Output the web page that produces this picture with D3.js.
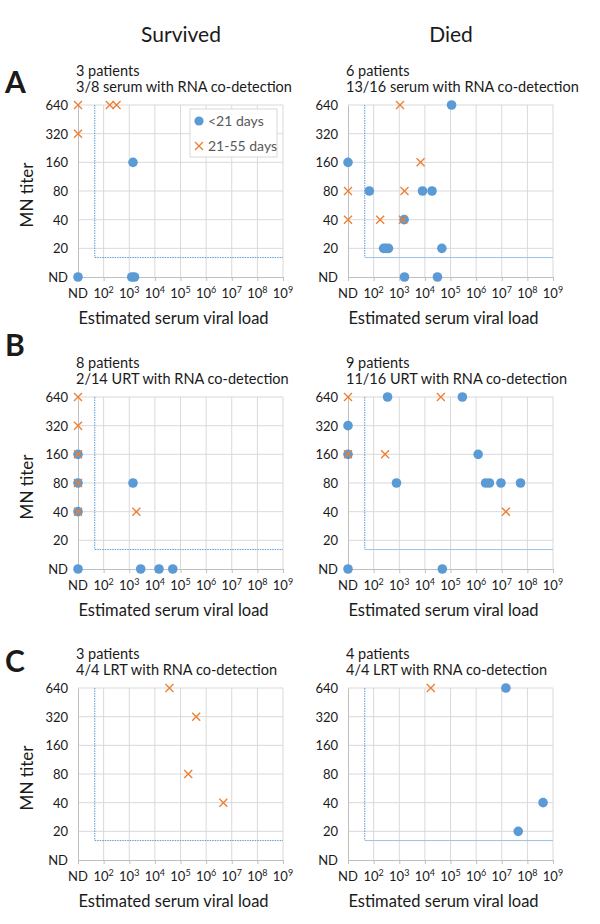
<!DOCTYPE html>
<html lang="en">
<head>
    <meta charset="UTF-8">
    <title>MN titer vs viral load</title>
    <script src="https://d3js.org/d3.v7.min.js"></script>
    <style>
        body { margin: 0; background: #fff; }
        text { font-family: Lato, "Open Sans", sans-serif; fill: #1a1a1a; }
        .tick-label { font-size: 13px; }
        .legend-text { font-size: 14px; fill: #595959; }
    </style>
</head>
<body>
    <div id="chart"></div>
    <script>
        // ND is plotted at the bottom / left end of each axis
        const ND = 10;

        const columnTitles = ["Survived", "Died"];
        const rowLetters = ["A", "B", "C"];
        const seriesNames = ["<21 days", "21-55 days"];

        const xTickValues = [10, 1e2, 1e3, 1e4, 1e5, 1e6, 1e7, 1e8, 1e9];
        const xTickLabels = ["ND", "10^2", "10^3", "10^4", "10^5", "10^6", "10^7", "10^8", "10^9"];
        const yTickValues = [10, 20, 40, 80, 160, 320, 640];
        const yTickLabels = ["ND", "20", "40", "80", "160", "320", "640"];

        // detection limits (dotted guide lines)
        const viralLoadCutoff = 45;
        const titerCutoff = 16;

        const panelTitles = [
            ["3 patients", "3/8 serum with RNA co-detection"],
            ["6 patients", "13/16 serum with RNA co-detection"],
            ["8 patients", "2/14 URT with RNA co-detection"],
            ["9 patients", "11/16 URT with RNA co-detection"],
            ["3 patients", "4/4 LRT with RNA co-detection"],
            ["4 patients", "4/4 LRT with RNA co-detection"]
        ];

        // [viral load, MN titer]; ND = 10
        const serumSurvivedEarly = [[ND, ND], [1.25e3, ND], [1.6e3, ND], [1.4e3, 160]];
        const serumSurvivedLate = [[ND, 640], [175, 640], [320, 640], [ND, 320]];
        const serumDiedEarly = [[1.1e5, 640], [ND, 160], [68, 80], [8.1e3, 80], [1.9e4, 80], [1.55e3, 40],
                                [245, 20], [300, 20], [380, 20], [4.6e4, 20], [1.6e3, ND], [3.1e4, ND]];
        const serumDiedLate = [[1.07e3, 640], [6.8e3, 160], [ND, 80], [1.6e3, 80], [ND, 40], [180, 40], [1.4e3, 40]];
        const urtSurvivedEarly = [[ND, 160], [ND, 80], [ND, 40], [ND, ND], [1.4e3, 80], [2.8e3, ND], [1.45e4, ND], [5e4, ND]];
        const urtSurvivedLate = [[ND, 640], [ND, 320], [ND, 160], [ND, 80], [ND, 40], [1.9e3, 40]];
        const urtDiedEarly = [[350, 640], [2.9e5, 640], [ND, 320], [ND, 160], [1.2e6, 160], [780, 80], [2.35e6, 80],
                              [3.3e6, 80], [9.3e6, 80], [5.4e7, 80], [ND, ND], [4.8e4, ND]];
        const urtDiedLate = [[ND, 640], [4.2e4, 640], [ND, 160], [280, 160], [1.45e7, 40]];
        const lrtSurvivedEarly = [];
        const lrtSurvivedLate = [[3.7e4, 640], [4.1e5, 320], [2.0e5, 80], [4.7e6, 40]];
        const lrtDiedEarly = [[1.45e7, 640], [4.4e7, 20], [4.1e8, 40]];
        const lrtDiedLate = [[1.7e4, 640]];

        const panels = [
            {row: 0, col: 0, early: serumSurvivedEarly, late: serumSurvivedLate, legend: true},
            {row: 0, col: 1, early: serumDiedEarly, late: serumDiedLate},
            {row: 1, col: 0, early: urtSurvivedEarly, late: urtSurvivedLate},
            {row: 1, col: 1, early: urtDiedEarly, late: urtDiedLate},
            {row: 2, col: 0, early: lrtSurvivedEarly, late: lrtSurvivedLate},
            {row: 2, col: 1, early: lrtDiedEarly, late: lrtDiedLate}
        ];

        const blue = "#5b9bd5", orange = "#ed7d31", grid = "#d9d9d9";
        const width = 600, height = 924;
        const colLeft = [78, 348], plotW = 205;
        const rowTop = [105, 397, 688], plotH = 172;
        const letterY = [93, 356, 672];

        const svg = d3.select("#chart").append("svg")
            .attr("width", width)
            .attr("height", height);

        svg.selectAll(".col-title")
            .data(columnTitles)
            .enter().append("text")
            .attr("x", (d, i) => i === 0 ? 181 : 451)
            .attr("y", 42)
            .attr("text-anchor", "middle")
            .style("font-size", "21px")
            .text(d => d);

        svg.selectAll(".row-letter")
            .data(rowLetters)
            .enter().append("text")
            .attr("x", 5)
            .attr("y", (d, i) => letterY[i])
            .style("font-size", "30px")
            .style("font-weight", "bold")
            .text(d => d);

        panels.forEach((p, idx) => {
            const x0 = colLeft[p.col], y0 = rowTop[p.row];
            const x = d3.scaleLog().domain([10, 1e9]).range([x0, x0 + plotW]);
            const y = d3.scaleLog().base(2).domain([10, 640]).range([y0 + plotH, y0]);
            const g = svg.append("g");

            // grid
            g.selectAll(".vgrid").data(xTickValues.slice(1)).enter().append("line")
                .attr("x1", d => x(d)).attr("x2", d => x(d))
                .attr("y1", y0).attr("y2", y0 + plotH)
                .attr("stroke", grid);
            g.selectAll(".hgrid").data(yTickValues.slice(1)).enter().append("line")
                .attr("x1", x0).attr("x2", x0 + plotW)
                .attr("y1", d => y(d)).attr("y2", d => y(d))
                .attr("stroke", grid);

            // axes
            const xAxis = g.append("g")
                .attr("transform", `translate(0,${y0 + plotH})`)
                .call(d3.axisBottom(x).tickValues(xTickValues).tickSize(4).tickFormat(""));
            xAxis.selectAll("line, path").attr("stroke", "#bfbfbf");
            const yAxis = g.append("g")
                .attr("transform", `translate(${x0},0)`)
                .call(d3.axisLeft(y).tickValues(yTickValues).tickSize(0).tickFormat(""));
            yAxis.selectAll("line, path").attr("stroke", "#bfbfbf");

            const xl = g.selectAll(".xl").data(xTickValues).enter().append("text")
                .attr("class", "tick-label")
                .attr("x", d => x(d))
                .attr("y", y0 + plotH + 21)
                .attr("text-anchor", "middle");
            xl.each(function(d, i) {
                const parts = xTickLabels[i].split("^");
                const t = d3.select(this);
                t.append("tspan").text(parts[0]);
                if (parts[1]) {
                    t.append("tspan").attr("dy", -5).style("font-size", "9px").text(parts[1]);
                }
            });

            g.selectAll(".yl").data(yTickValues).enter().append("text")
                .attr("class", "tick-label")
                .attr("x", x0 - 10)
                .attr("y", d => y(d) + 5)
                .attr("text-anchor", "end")
                .text((d, i) => yTickLabels[i]);

            g.append("text")
                .attr("x", x0 + plotW / 2 - 7)
                .attr("y", y0 + plotH + 47)
                .attr("text-anchor", "middle")
                .style("font-size", "16.5px")
                .text("Estimated serum viral load");

            if (p.col === 0) {
                g.append("text")
                    .attr("transform", `translate(33,${y0 + plotH / 2 + 4}) rotate(-90)`)
                    .attr("text-anchor", "middle")
                    .style("font-size", "17px")
                    .text("MN titer");
            }

            g.selectAll(".ptitle").data(panelTitles[idx]).enter().append("text")
                .attr("x", x0 - 2)
                .attr("y", (d, i) => y0 - 29 + i * 16)
                .style("font-size", "14.5px")
                .text(d => d);

            // detection limit guides
            g.append("path")
                .attr("d", `M${x(viralLoadCutoff)},${y(640)}V${y(titerCutoff)}`)
                .attr("fill", "none").attr("stroke", blue).attr("stroke-width", 1)
                .attr("stroke-dasharray", "1.5,1");
            g.append("path")
                .attr("d", `M${x(viralLoadCutoff)},${y(titerCutoff)}H${x(1e9)}`)
                .attr("fill", "none")
                .attr("stroke", p.col === 0 ? blue : "#9dc3e6").attr("stroke-width", 1)
                .attr("stroke-dasharray", p.col === 0 ? "1.5,1" : null);

            // points
            g.selectAll(".dot").data(p.early).enter().append("circle")
                .attr("cx", d => x(d[0])).attr("cy", d => y(d[1]))
                .attr("r", 4.8).attr("fill", blue);
            g.selectAll(".cross").data(p.late).enter().append("path")
                .attr("transform", d => `translate(${x(d[0])},${y(d[1])})`)
                .attr("d", "M-4,-4L4,4M-4,4L4,-4")
                .attr("stroke", orange).attr("stroke-width", 1.3);

            if (p.legend) {
                const lg = g.append("g").attr("transform", `translate(${x0 + 112},${y0 + 4})`);
                lg.append("rect")
                    .attr("width", 87).attr("height", 48)
                    .attr("fill", "#fff").attr("stroke", "#d9d9d9");
                lg.append("circle").attr("cx", 9).attr("cy", 12).attr("r", 4.6).attr("fill", blue);
                lg.append("path").attr("transform", "translate(9,37)")
                    .attr("d", "M-4,-4L4,4M-4,4L4,-4")
                    .attr("stroke", orange).attr("stroke-width", 1.3);
                lg.selectAll(".lt").data(seriesNames).enter().append("text")
                    .attr("class", "legend-text")
                    .attr("x", 18)
                    .attr("y", (d, i) => 17 + i * 25)
                    .text(d => d);
            }
        });
    </script>
</body>
</html>
